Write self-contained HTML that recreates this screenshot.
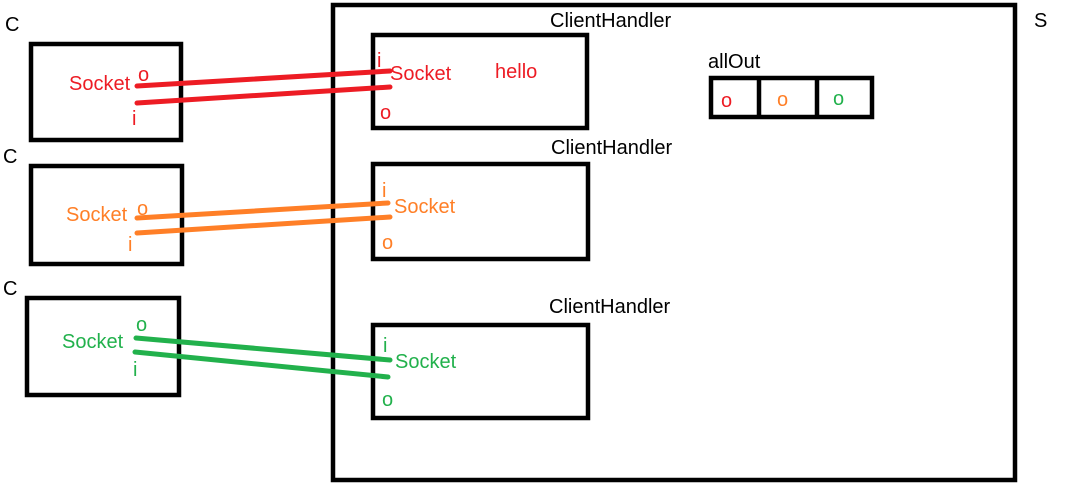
<!DOCTYPE html>
<html><head><meta charset="utf-8"><style>
html,body{margin:0;padding:0;background:#fff;}
svg{display:block;}
text{font-family:"Liberation Sans",sans-serif;font-size:20px;}
</style></head><body>
<svg width="1069" height="492" viewBox="0 0 1069 492" xmlns="http://www.w3.org/2000/svg">
<g fill="none" stroke="#000" stroke-width="4.5">
<rect x="333" y="5" width="682" height="475"/>
<rect x="31" y="44" width="150" height="96"/>
<rect x="31" y="166" width="151" height="98"/>
<rect x="27" y="298" width="152" height="97"/>
<rect x="373" y="35" width="214" height="93"/>
<rect x="373" y="164" width="215" height="95"/>
<rect x="373" y="325" width="215" height="93"/>
<rect x="711" y="78" width="161" height="39"/>
<line x1="759" y1="78" x2="759" y2="117"/>
<line x1="817" y1="78" x2="817" y2="117"/>
</g>
<g stroke-width="5" stroke-linecap="round">
<line x1="137" y1="86" x2="390" y2="71" stroke="#ed1c24"/>
<line x1="137" y1="103" x2="390" y2="87" stroke="#ed1c24"/>
<line x1="137" y1="218" x2="388" y2="203" stroke="#ff7f27"/>
<line x1="137" y1="233" x2="390" y2="217" stroke="#ff7f27"/>
<line x1="136" y1="338" x2="390" y2="360" stroke="#22b14c"/>
<line x1="135" y1="352" x2="388" y2="377" stroke="#22b14c"/>
</g>
<g fill="#000">
<text x="5" y="31">C</text>
<text x="3" y="163">C</text>
<text x="3" y="295">C</text>
<text x="1034" y="27">S</text>
<text x="550" y="27">ClientHandler</text>
<text x="551" y="154">ClientHandler</text>
<text x="549" y="313">ClientHandler</text>
<text x="708" y="68">allOut</text>
</g>
<g fill="#ed1c24">
<text x="69" y="90">Socket</text>
<text x="138" y="81">o</text>
<text x="132" y="125">i</text>
<text x="377" y="67">i</text>
<text x="390" y="80">Socket</text>
<text x="495" y="78">hello</text>
<text x="380" y="119">o</text>
<text x="721" y="107">o</text>
</g>
<g fill="#ff7f27">
<text x="66" y="221">Socket</text>
<text x="137" y="215">o</text>
<text x="128" y="251">i</text>
<text x="382" y="197">i</text>
<text x="394" y="213">Socket</text>
<text x="382" y="249">o</text>
<text x="777" y="106">o</text>
</g>
<g fill="#22b14c">
<text x="62" y="348">Socket</text>
<text x="136" y="331">o</text>
<text x="133" y="376">i</text>
<text x="383" y="352">i</text>
<text x="395" y="368">Socket</text>
<text x="382" y="406">o</text>
<text x="833" y="105">o</text>
</g>
</svg>
</body></html>
